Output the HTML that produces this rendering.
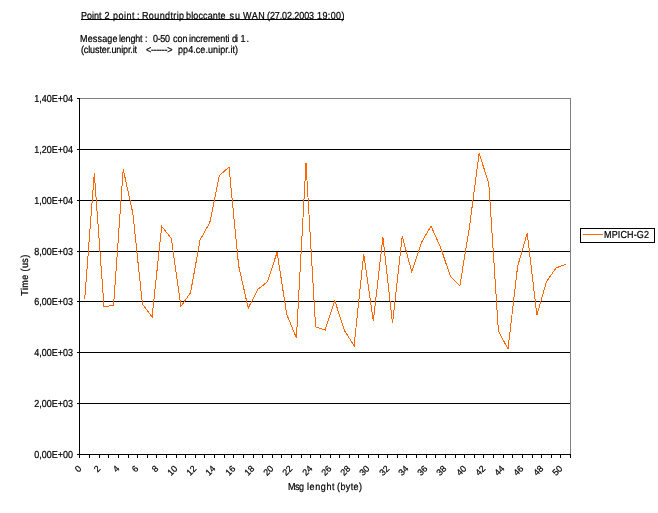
<!DOCTYPE html>
<html><head><meta charset="utf-8"><title>chart</title>
<style>
html,body{margin:0;padding:0;background:#fff;}
body{width:658px;height:513px;position:relative;overflow:hidden;font-family:"Liberation Sans",sans-serif;font-size:9px;color:#000;text-rendering:geometricPrecision;-webkit-text-stroke:0.2px #000;}
.t{position:absolute;white-space:pre;line-height:10px;transform:scaleY(1.13);transform-origin:50% 50%;}
.yl{position:absolute;left:20px;width:53px;text-align:right;line-height:10px;height:10px;white-space:pre;transform:scaleY(1.13);transform-origin:50% 50%;}
.xl{position:absolute;width:30px;height:10px;line-height:10px;text-align:right;transform-origin:100% 50%;transform:rotate(-45deg);white-space:pre;}
</style></head><body><div id="w" style="position:absolute;left:0;top:0;width:658px;height:513px;will-change:transform;">
<svg width="658" height="513" viewBox="0 0 658 513" style="position:absolute;left:0;top:0" shape-rendering="crispEdges">
<rect x="79" y="98" width="492" height="1" fill="#808080"/>
<rect x="570" y="98" width="1" height="357" fill="#808080"/>
<rect x="79" y="149" width="491" height="1" fill="#000"/>
<rect x="79" y="200" width="491" height="1" fill="#000"/>
<rect x="79" y="251" width="491" height="1" fill="#000"/>
<rect x="79" y="301" width="491" height="1" fill="#000"/>
<rect x="79" y="352" width="491" height="1" fill="#000"/>
<rect x="79" y="403" width="491" height="1" fill="#000"/>
<polyline points="84.7,299.0 94.3,173.2 104.0,306.8 113.6,305.2 123.2,169.2 132.8,213.0 142.4,304.1 152.1,317.0 161.7,226.3 171.3,238.3 180.9,306.5 190.5,292.8 200.1,239.9 209.8,222.6 219.4,175.6 229.0,167.0 238.6,265.6 248.2,308.1 257.9,289.3 267.5,281.8 277.1,252.1 286.7,314.3 296.4,338.0 306.0,163.1 315.6,326.9 325.2,329.9 334.8,300.6 344.4,330.5 354.1,345.8 363.7,254.3 373.3,321.2 382.9,237.2 392.5,323.2 402.2,236.2 411.8,272.0 421.4,242.5 431.0,226.0 440.6,247.4 450.3,276.1 459.9,285.6 469.5,226.7 479.1,153.4 488.8,183.3 498.4,331.1 508.0,349.0 517.6,266.5 527.2,232.9 536.9,315.2 546.5,281.7 556.1,267.9 565.7,264.3" fill="none" stroke="#ff6600" stroke-width="1"/>
<rect x="79" y="98" width="1" height="360" fill="#000"/>
<rect x="77" y="454" width="494" height="1" fill="#000"/>
<rect x="77" y="98" width="3" height="1" fill="#000"/>
<rect x="77" y="149" width="3" height="1" fill="#000"/>
<rect x="77" y="200" width="3" height="1" fill="#000"/>
<rect x="77" y="251" width="3" height="1" fill="#000"/>
<rect x="77" y="301" width="3" height="1" fill="#000"/>
<rect x="77" y="352" width="3" height="1" fill="#000"/>
<rect x="77" y="403" width="3" height="1" fill="#000"/>
<rect x="79" y="454" width="1" height="4" fill="#000"/>
<rect x="89" y="454" width="1" height="4" fill="#000"/>
<rect x="99" y="454" width="1" height="4" fill="#000"/>
<rect x="108" y="454" width="1" height="4" fill="#000"/>
<rect x="118" y="454" width="1" height="4" fill="#000"/>
<rect x="128" y="454" width="1" height="4" fill="#000"/>
<rect x="137" y="454" width="1" height="4" fill="#000"/>
<rect x="147" y="454" width="1" height="4" fill="#000"/>
<rect x="156" y="454" width="1" height="4" fill="#000"/>
<rect x="166" y="454" width="1" height="4" fill="#000"/>
<rect x="176" y="454" width="1" height="4" fill="#000"/>
<rect x="185" y="454" width="1" height="4" fill="#000"/>
<rect x="195" y="454" width="1" height="4" fill="#000"/>
<rect x="204" y="454" width="1" height="4" fill="#000"/>
<rect x="214" y="454" width="1" height="4" fill="#000"/>
<rect x="224" y="454" width="1" height="4" fill="#000"/>
<rect x="233" y="454" width="1" height="4" fill="#000"/>
<rect x="243" y="454" width="1" height="4" fill="#000"/>
<rect x="253" y="454" width="1" height="4" fill="#000"/>
<rect x="262" y="454" width="1" height="4" fill="#000"/>
<rect x="272" y="454" width="1" height="4" fill="#000"/>
<rect x="281" y="454" width="1" height="4" fill="#000"/>
<rect x="291" y="454" width="1" height="4" fill="#000"/>
<rect x="301" y="454" width="1" height="4" fill="#000"/>
<rect x="310" y="454" width="1" height="4" fill="#000"/>
<rect x="320" y="454" width="1" height="4" fill="#000"/>
<rect x="330" y="454" width="1" height="4" fill="#000"/>
<rect x="339" y="454" width="1" height="4" fill="#000"/>
<rect x="349" y="454" width="1" height="4" fill="#000"/>
<rect x="358" y="454" width="1" height="4" fill="#000"/>
<rect x="368" y="454" width="1" height="4" fill="#000"/>
<rect x="378" y="454" width="1" height="4" fill="#000"/>
<rect x="387" y="454" width="1" height="4" fill="#000"/>
<rect x="397" y="454" width="1" height="4" fill="#000"/>
<rect x="406" y="454" width="1" height="4" fill="#000"/>
<rect x="416" y="454" width="1" height="4" fill="#000"/>
<rect x="426" y="454" width="1" height="4" fill="#000"/>
<rect x="435" y="454" width="1" height="4" fill="#000"/>
<rect x="445" y="454" width="1" height="4" fill="#000"/>
<rect x="455" y="454" width="1" height="4" fill="#000"/>
<rect x="464" y="454" width="1" height="4" fill="#000"/>
<rect x="474" y="454" width="1" height="4" fill="#000"/>
<rect x="483" y="454" width="1" height="4" fill="#000"/>
<rect x="493" y="454" width="1" height="4" fill="#000"/>
<rect x="503" y="454" width="1" height="4" fill="#000"/>
<rect x="512" y="454" width="1" height="4" fill="#000"/>
<rect x="522" y="454" width="1" height="4" fill="#000"/>
<rect x="532" y="454" width="1" height="4" fill="#000"/>
<rect x="541" y="454" width="1" height="4" fill="#000"/>
<rect x="551" y="454" width="1" height="4" fill="#000"/>
<rect x="560" y="454" width="1" height="4" fill="#000"/>
<rect x="570" y="454" width="1" height="4" fill="#000"/>
<rect x="580.5" y="228.5" width="74" height="14" fill="#fff" stroke="#000" stroke-width="1"/>
<rect x="583" y="234" width="20" height="1" fill="#ff6600"/>
</svg>
<div class="t" style="left:81.00px;top:11px;letter-spacing:0.000px">Point</div>
<div class="t" style="left:104.50px;top:11px;letter-spacing:0.000px">2</div>
<div class="t" style="left:113.00px;top:11px;letter-spacing:0.500px">point</div>
<div class="t" style="left:137.00px;top:11px;letter-spacing:0.000px">:</div>
<div class="t" style="left:142.00px;top:11px;letter-spacing:0.375px">Roundtrip</div>
<div class="t" style="left:186.00px;top:11px;letter-spacing:0.125px">bloccante</div>
<div class="t" style="left:229.60px;top:11px;letter-spacing:0.800px">su</div>
<div class="t" style="left:243.00px;top:11px;letter-spacing:0.500px">WAN</div>
<div class="t" style="left:267.00px;top:11px;letter-spacing:-0.100px">(27.02.2003</div>
<div class="t" style="left:317.00px;top:11px;letter-spacing:0.400px">19:00)</div>
<div style="position:absolute;left:81px;top:19px;width:263px;height:1px;background:#000"></div>
<div class="t" style="left:80.00px;top:34px;letter-spacing:0.167px">Message</div>
<div class="t" style="left:119.00px;top:34px;letter-spacing:-0.200px">lenght</div>
<div class="t" style="left:145.00px;top:34px;letter-spacing:0.000px">:</div>
<div class="t" style="left:153.00px;top:34px;letter-spacing:-0.333px">0-50</div>
<div class="t" style="left:173.00px;top:34px;letter-spacing:0.000px">con</div>
<div class="t" style="left:189.00px;top:34px;letter-spacing:-0.111px">incrementi</div>
<div class="t" style="left:231.90px;top:34px;letter-spacing:-0.800px">di</div>
<div class="t" style="left:240.60px;top:34px;letter-spacing:0.800px">1.</div>
<div class="t" style="left:81.00px;top:45px;letter-spacing:-0.125px">(cluster.unipr.it</div>
<div class="t" style="left:146.00px;top:45px;letter-spacing:-0.286px">&lt;------&gt;</div>
<div class="t" style="left:178.00px;top:45px;letter-spacing:0.067px">pp4.ce.unipr.it)</div>
<div class="t" style="left:288.00px;top:482px;letter-spacing:-0.500px">Msg</div>
<div class="t" style="left:307.00px;top:482px;letter-spacing:0.600px">lenght</div>
<div class="t" style="left:337.00px;top:482px;letter-spacing:0.400px">(byte)</div>
<div class="t" style="left:604.00px;top:230px;letter-spacing:0.143px">MPICH-G2</div>
<div class="yl" style="top:94.2px">1,40E+04</div>
<div class="yl" style="top:145.2px">1,20E+04</div>
<div class="yl" style="top:196.2px">1,00E+04</div>
<div class="yl" style="top:247.2px">8,00E+03</div>
<div class="yl" style="top:297.2px">6,00E+03</div>
<div class="yl" style="top:348.2px">4,00E+03</div>
<div class="yl" style="top:399.2px">2,00E+03</div>
<div class="yl" style="top:450.2px">0,00E+00</div>
<div class="xl" style="left:49.7px;top:462.4px">0</div>
<div class="xl" style="left:69.0px;top:462.4px">2</div>
<div class="xl" style="left:88.2px;top:462.4px">4</div>
<div class="xl" style="left:107.4px;top:462.4px">6</div>
<div class="xl" style="left:126.7px;top:462.4px">8</div>
<div class="xl" style="left:145.9px;top:462.4px">10</div>
<div class="xl" style="left:165.1px;top:462.4px">12</div>
<div class="xl" style="left:184.4px;top:462.4px">14</div>
<div class="xl" style="left:203.6px;top:462.4px">16</div>
<div class="xl" style="left:222.9px;top:462.4px">18</div>
<div class="xl" style="left:242.1px;top:462.4px">20</div>
<div class="xl" style="left:261.4px;top:462.4px">22</div>
<div class="xl" style="left:280.6px;top:462.4px">24</div>
<div class="xl" style="left:299.8px;top:462.4px">26</div>
<div class="xl" style="left:319.1px;top:462.4px">28</div>
<div class="xl" style="left:338.3px;top:462.4px">30</div>
<div class="xl" style="left:357.5px;top:462.4px">32</div>
<div class="xl" style="left:376.8px;top:462.4px">34</div>
<div class="xl" style="left:396.0px;top:462.4px">36</div>
<div class="xl" style="left:415.3px;top:462.4px">38</div>
<div class="xl" style="left:434.5px;top:462.4px">40</div>
<div class="xl" style="left:453.8px;top:462.4px">42</div>
<div class="xl" style="left:473.0px;top:462.4px">44</div>
<div class="xl" style="left:492.2px;top:462.4px">46</div>
<div class="xl" style="left:511.5px;top:462.4px">48</div>
<div class="xl" style="left:530.7px;top:462.4px">50</div>
<div class="t" style="left:-15px;top:270px;width:80px;text-align:center;letter-spacing:0.4px;transform:rotate(-90deg) scaleY(1.12);transform-origin:50% 50%;">Time (us)</div>
</div></body></html>
